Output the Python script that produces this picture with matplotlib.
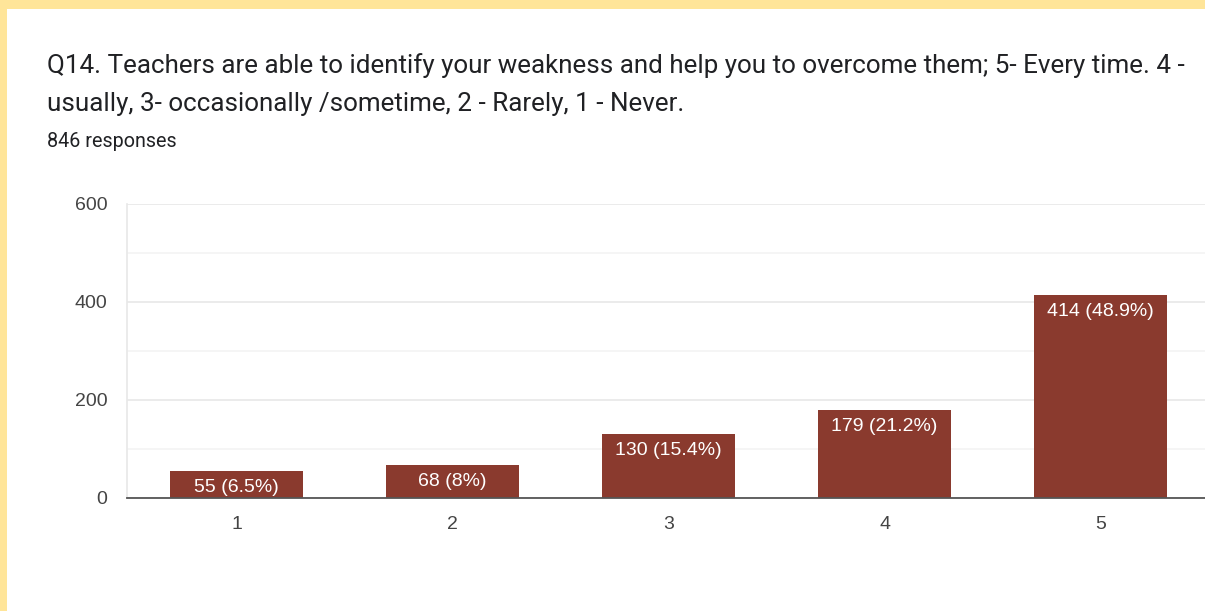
import matplotlib
matplotlib.use("Agg")
import matplotlib.pyplot as plt
from matplotlib.patches import Rectangle

categories = ["1", "2", "3", "4", "5"]
counts = [55, 68, 130, 179, 414]
labels = ["55 (6.5%)", "68 (8%)", "130 (15.4%)", "179 (21.2%)", "414 (48.9%)"]
title_line1 = "Q14. Teachers are able to identify your weakness and help you to overcome them; 5- Every time. 4 -"
title_line2 = "usually, 3- occasionally /sometime, 2 - Rarely, 1 - Never."
subtitle = "846 responses"
yticks = [0, 200, 400, 600]

plt.rcParams['font.family'] = ['Roboto', 'DejaVu Sans']
chart_font = ['Liberation Sans', 'DejaVu Sans']

W, H = 1205, 611
fig = plt.figure(figsize=(W / 100, H / 100), dpi=100)
fig.patch.set_facecolor('#ffe599')
# white card
fig.add_artist(Rectangle((7 / W, 0), 1, 1 - 9 / H, transform=fig.transFigure,
                         facecolor='white', edgecolor='none', zorder=0))

fig.text(47 / W, 1 - 66 / H, title_line1, fontsize=18.7, color='#202124', va='center', ha='left')
fig.text(47 / W, 1 - 104 / H, title_line2, fontsize=18.7, color='#202124', va='center', ha='left')
fig.text(47 / W, 1 - 141 / H, subtitle, fontsize=14.2, color='#202124', va='center', ha='left')

left = 127 / W
right = 1207 / W
bottom = 1 - 498 / H
top = 1 - 204 / H
ax = fig.add_axes([left, bottom, right - left, top - bottom])
ax.set_facecolor('white')

x = list(range(1, len(categories) + 1))
bars = ax.bar(x, counts, width=0.616, color='#8a3a2e', zorder=3)
for xi, c, lab in zip(x, counts, labels):
    ax.annotate(lab, (xi, c), xytext=(0, -12), textcoords='offset points',
                ha='center', va='center', color='white', fontsize=14,
                family=chart_font, zorder=4)

ax.set_xlim(0.493, 5.493)
ax.set_ylim(0, 600)
ax.set_xticks(x)
ax.set_xticklabels(categories, family=chart_font)
ax.set_yticks(yticks)
ax.set_yticklabels([str(v) for v in yticks], family=chart_font)
ax.set_yticks([100, 300, 500], minor=True)
ax.grid(axis='y', which='major', color='#e8e8e8', linewidth=1.2, zorder=0)
ax.grid(axis='y', which='minor', color='#f4f4f4', linewidth=1.2, zorder=0)
ax.tick_params(axis='both', which='both', length=0, labelsize=14, labelcolor='#444444')
ax.tick_params(axis='y', pad=14)
ax.tick_params(axis='x', pad=13)
for s in ['top', 'right']:
    ax.spines[s].set_visible(False)
ax.spines['left'].set_color('#e8e8e8')
ax.spines['left'].set_linewidth(1.2)
ax.spines['bottom'].set_color('#555555')
ax.spines['bottom'].set_linewidth(1.3)
ax.spines['bottom'].set_zorder(5)

fig.savefig('out.png', dpi=100, facecolor=fig.get_facecolor())
